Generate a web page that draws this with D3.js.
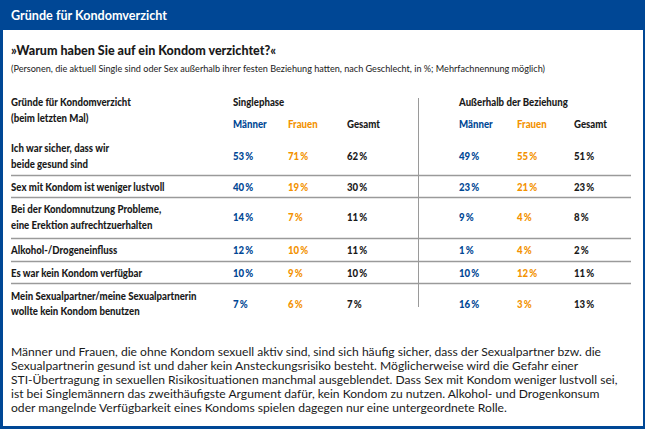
<!DOCTYPE html>
<html><head><meta charset="utf-8">
<script src="https://cdn.jsdelivr.net/npm/d3@7"></script>
<style>
html,body{margin:0;padding:0;background:#fff;}
svg{display:block;}
</style></head>
<body>
<svg id="c" width="645" height="429"></svg>
<script>
const title = "Gründe für Kondomverzicht";
const question = "»Warum haben Sie auf ein Kondom verzichtet?«";
const subtitle = "(Personen, die aktuell Single sind oder Sex außerhalb ihrer festen Beziehung hatten, nach Geschlecht, in %; Mehrfachnennung möglich)";
const headerLabel = ["Gründe für Kondomverzicht", "(beim letzten Mal)"];
const groups = ["Singlephase", "Außerhalb der Beziehung"];
const subCols = ["Männer", "Frauen", "Gesamt"];
const reasons = [
  ["Ich war sicher, dass wir", "beide gesund sind"],
  ["Sex mit Kondom ist weniger lustvoll"],
  ["Bei der Kondomnutzung Probleme,", "eine Erektion aufrechtzuerhalten"],
  ["Alkohol-/Drogeneinfluss"],
  ["Es war kein Kondom verfügbar"],
  ["Mein Sexualpartner/meine Sexualpartnerin", "wollte kein Kondom benutzen"]
];
const singleMen    = [53, 40, 14, 12, 10, 7];
const singleWomen  = [71, 19, 7, 10, 9, 6];
const singleTotal  = [62, 30, 11, 11, 10, 7];
const outsideMen   = [49, 23, 9, 1, 10, 16];
const outsideWomen = [55, 21, 4, 4, 12, 3];
const outsideTotal = [51, 23, 8, 2, 11, 13];
const bodyText = [
  "Männer und Frauen, die ohne Kondom sexuell aktiv sind, sind sich häufig sicher, dass der Sexualpartner bzw. die",
  "Sexualpartnerin gesund ist und daher kein Ansteckungsrisiko besteht. Möglicherweise wird die Gefahr einer",
  "STI-Übertragung in sexuellen Risikosituationen manchmal ausgeblendet. Dass Sex mit Kondom weniger lustvoll sei,",
  "ist bei Singlemännern das zweithäufigste Argument dafür, kein Kondom zu nutzen. Alkohol- und Drogenkonsum",
  "oder mangelnde Verfügbarkeit eines Kondoms spielen dagegen nur eine untergeordnete Rolle."
];

const BLUE = "#004795", ORANGE = "#f39200", DARK = "#1a1a1a", LINE = "#9a9a9a";
const colColors = [BLUE, ORANGE, DARK];
const regular = "Lato,'Open Sans',sans-serif";
const SX = 0.86; // horizontal condensing of table text

const svg = d3.select("#c");
// frame
svg.append("rect").attr("x",0).attr("y",0).attr("width",645).attr("height",429).attr("fill",BLUE);
svg.append("rect").attr("x",3).attr("y",30).attr("width",640).attr("height",396).attr("fill","#fff");
svg.append("text").attr("x",11).attr("y",20).attr("fill","#fff")
  .style("font-family",regular).style("font-weight","bold").style("font-size","12.6px").text(title);
svg.append("text").attr("x",11).attr("y",55).attr("fill",DARK)
  .style("font-family",regular).style("font-weight","900").style("font-size","12.5px").text(question);
svg.append("text").attr("x",11).attr("y",72).attr("fill",DARK)
  .style("font-family",regular).style("font-size","9.1px").text(subtitle);

// table scales
const colX = d3.scaleOrdinal().domain(["s0","s1","s2","o0","o1","o2"]).range([233, 288, 347, 459, 517, 574]);
const rowCenters = [156, 186.5, 217, 250, 272.5, 303.5];
const rowY = d3.scaleOrdinal().domain(d3.range(reasons.length)).range(rowCenters);
const lineYs = [175, 197, 238, 261, 283];

const t = svg.append("g").style("font-family",regular).style("font-weight","900").style("font-size","11.2px");
function ct(x, y, txt, fill, dy) {
  return t.append("text").attr("transform",`translate(${x},${y}) scale(${SX},1)`)
    .attr("dy", dy || 0).attr("fill", fill).text(txt);
}

// header
headerLabel.forEach((s,i)=> ct(11, 106+i*16, s, DARK));
ct(colX("s0"), 106, groups[0], DARK);
ct(colX("o0"), 106, groups[1], DARK);
["s","o"].forEach(g => subCols.forEach((c,i)=> ct(colX(g+i), 128, c, colColors[i])));

// vertical separator
svg.append("line").attr("x1",418.5).attr("x2",418.5).attr("y1",98).attr("y2",307).attr("stroke",LINE).attr("stroke-width",1);
// horizontal lines
svg.selectAll("line.h").data(lineYs).join("line").attr("class","h")
  .attr("x1",11).attr("x2",631).attr("y1",d=>d+0.5).attr("y2",d=>d+0.5).attr("stroke",LINE).attr("stroke-width",1.3);

// row labels
reasons.forEach((lines,r)=>{
  const cy = rowY(r);
  const n = lines.length;
  lines.forEach((s,i)=> ct(11, cy + (i-(n-1)/2)*15.5, s, DARK, "0.36em"));
});
const seriesList = [["s0",singleMen],["s1",singleWomen],["s2",singleTotal],["o0",outsideMen],["o1",outsideWomen],["o2",outsideTotal]];
seriesList.forEach(([k,vals],si)=>{
  t.selectAll(null).data(vals).join("text")
    .attr("transform",(d,i)=>`translate(${colX(k)},${rowY(i)}) scale(${SX},1)`).attr("dy","0.36em")
    .attr("fill",colColors[si%3]).text(d=>d+"\u2009%");
});

// body text
svg.append("g").selectAll("text").data(bodyText).join("text")
  .attr("x",11).attr("y",(d,i)=>356+i*14).attr("fill",DARK)
  .style("font-family",regular).style("font-size","12.1px").text(d=>d);
</script>
</body></html>
